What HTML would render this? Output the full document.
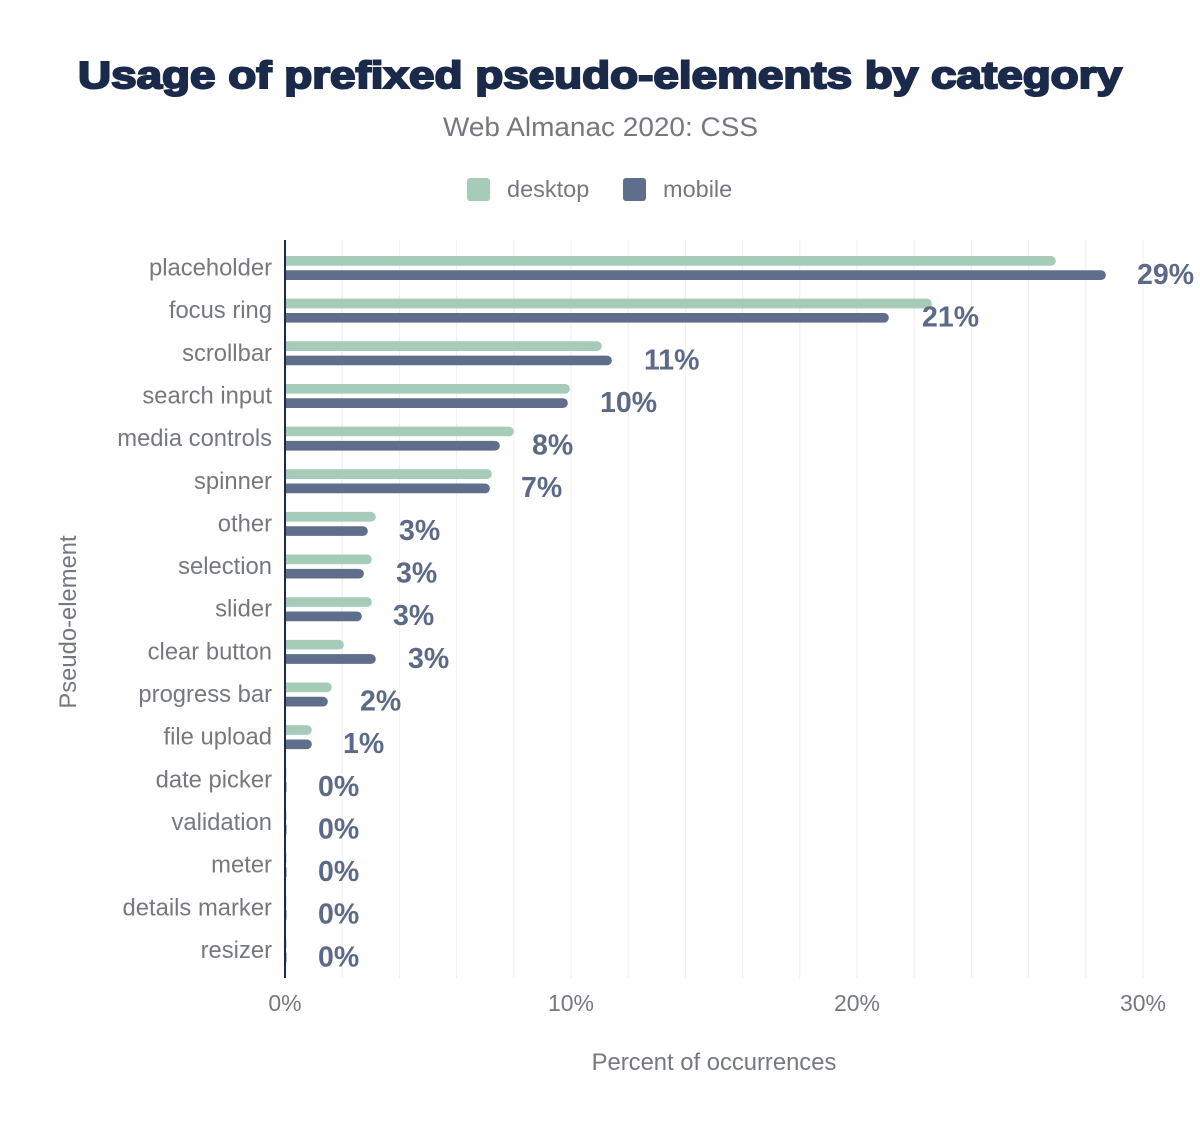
<!DOCTYPE html>
<html>
<head>
<meta charset="utf-8">
<style>
  html, body { margin: 0; padding: 0; background: #ffffff; }
  svg { display: block; }
  text { font-family: "Liberation Sans", Arial, sans-serif; }
</style>
</head>
<body>
<svg width="1200" height="1132" viewBox="0 0 1200 1132" xmlns="http://www.w3.org/2000/svg">
  <rect x="0" y="0" width="1200" height="1132" fill="#ffffff"/>

  <!-- Title -->
  <text x="78" y="88" font-size="38" font-weight="bold" fill="#1b2a4a" stroke="#1b2a4a" stroke-width="2" textLength="1044" lengthAdjust="spacingAndGlyphs">Usage of prefixed pseudo-elements by category</text>
  <!-- Subtitle -->
  <text x="443" y="136" font-size="27" fill="#75787f" textLength="315" lengthAdjust="spacingAndGlyphs">Web Almanac 2020: CSS</text>

  <!-- Legend -->
  <rect x="467" y="178" width="23" height="23" rx="3" fill="#a6cbb9"/>
  <text x="507" y="197" font-size="23.5" fill="#75787f">desktop</text>
  <rect x="623" y="178" width="23" height="23" rx="3" fill="#5f6e8b"/>
  <text x="663" y="197" font-size="23.5" fill="#75787f">mobile</text>

  <!-- Gridlines -->
  <g stroke="#eeeeee" stroke-width="1">
    <line x1="342.2" y1="240" x2="342.2" y2="978"/>
    <line x1="399.4" y1="240" x2="399.4" y2="978"/>
    <line x1="456.6" y1="240" x2="456.6" y2="978"/>
    <line x1="513.8" y1="240" x2="513.8" y2="978"/>
    <line x1="571" y1="240" x2="571" y2="978"/>
    <line x1="628.2" y1="240" x2="628.2" y2="978"/>
    <line x1="685.4" y1="240" x2="685.4" y2="978"/>
    <line x1="742.6" y1="240" x2="742.6" y2="978"/>
    <line x1="799.8" y1="240" x2="799.8" y2="978"/>
    <line x1="857" y1="240" x2="857" y2="978"/>
    <line x1="914.2" y1="240" x2="914.2" y2="978"/>
    <line x1="971.4" y1="240" x2="971.4" y2="978"/>
    <line x1="1028.6" y1="240" x2="1028.6" y2="978"/>
    <line x1="1085.8" y1="240" x2="1085.8" y2="978"/>
    <line x1="1143" y1="240" x2="1143" y2="978"/>
  </g>

  <!-- Bars -->
  <g>
    <path d="M285 256 H1051 A4.85 4.85 0 0 1 1051 265.7 H285 Z" fill="#a6cbb9"/>
    <path d="M285 270.3 H1101 A4.85 4.85 0 0 1 1101 280 H285 Z" fill="#5f6e8b"/>
    <path d="M285 298.65 H927 A4.85 4.85 0 0 1 927 308.35 H285 Z" fill="#a6cbb9"/>
    <path d="M285 312.95 H884 A4.85 4.85 0 0 1 884 322.65 H285 Z" fill="#5f6e8b"/>
    <path d="M285 341.3 H597 A4.85 4.85 0 0 1 597 351 H285 Z" fill="#a6cbb9"/>
    <path d="M285 355.6 H607 A4.85 4.85 0 0 1 607 365.3 H285 Z" fill="#5f6e8b"/>
    <path d="M285 383.95 H565 A4.85 4.85 0 0 1 565 393.65 H285 Z" fill="#a6cbb9"/>
    <path d="M285 398.25 H563 A4.85 4.85 0 0 1 563 407.95 H285 Z" fill="#5f6e8b"/>
    <path d="M285 426.6 H509 A4.85 4.85 0 0 1 509 436.3 H285 Z" fill="#a6cbb9"/>
    <path d="M285 440.9 H495 A4.85 4.85 0 0 1 495 450.6 H285 Z" fill="#5f6e8b"/>
    <path d="M285 469.25 H487 A4.85 4.85 0 0 1 487 478.95 H285 Z" fill="#a6cbb9"/>
    <path d="M285 483.55 H485 A4.85 4.85 0 0 1 485 493.25 H285 Z" fill="#5f6e8b"/>
    <path d="M285 511.9 H371 A4.85 4.85 0 0 1 371 521.6 H285 Z" fill="#a6cbb9"/>
    <path d="M285 526.2 H363 A4.85 4.85 0 0 1 363 535.9 H285 Z" fill="#5f6e8b"/>
    <path d="M285 554.55 H367 A4.85 4.85 0 0 1 367 564.25 H285 Z" fill="#a6cbb9"/>
    <path d="M285 568.85 H359 A4.85 4.85 0 0 1 359 578.55 H285 Z" fill="#5f6e8b"/>
    <path d="M285 597.2 H367 A4.85 4.85 0 0 1 367 606.9 H285 Z" fill="#a6cbb9"/>
    <path d="M285 611.5 H357 A4.85 4.85 0 0 1 357 621.2 H285 Z" fill="#5f6e8b"/>
    <path d="M285 639.85 H339 A4.85 4.85 0 0 1 339 649.55 H285 Z" fill="#a6cbb9"/>
    <path d="M285 654.15 H371 A4.85 4.85 0 0 1 371 663.85 H285 Z" fill="#5f6e8b"/>
    <path d="M285 682.5 H327 A4.85 4.85 0 0 1 327 692.2 H285 Z" fill="#a6cbb9"/>
    <path d="M285 696.8 H323 A4.85 4.85 0 0 1 323 706.5 H285 Z" fill="#5f6e8b"/>
    <path d="M285 725.15 H307 A4.85 4.85 0 0 1 307 734.85 H285 Z" fill="#a6cbb9"/>
    <path d="M285 739.45 H307 A4.85 4.85 0 0 1 307 749.15 H285 Z" fill="#5f6e8b"/>
    <rect x="285" y="767.8" width="1.5" height="9.7" fill="#a6cbb9"/>
    <rect x="285" y="782.1" width="1.5" height="9.7" fill="#5f6e8b"/>
    <rect x="285" y="810.45" width="1.5" height="9.7" fill="#a6cbb9"/>
    <rect x="285" y="824.75" width="1.5" height="9.7" fill="#5f6e8b"/>
    <rect x="285" y="853.1" width="1.5" height="9.7" fill="#a6cbb9"/>
    <rect x="285" y="867.4" width="1.5" height="9.7" fill="#5f6e8b"/>
    <rect x="285" y="895.75" width="1.5" height="9.7" fill="#a6cbb9"/>
    <rect x="285" y="910.05" width="1.5" height="9.7" fill="#5f6e8b"/>
    <rect x="285" y="938.4" width="1.5" height="9.7" fill="#a6cbb9"/>
    <rect x="285" y="952.7" width="1.5" height="9.7" fill="#5f6e8b"/>
  </g>

  <!-- Axis line -->
  <line x1="285" y1="240" x2="285" y2="978" stroke="#1b2a4a" stroke-width="2"/>

  <!-- Category labels -->
  <g font-size="23.8" fill="#75787f" text-anchor="end">
    <text x="272" y="275.5">placeholder</text>
    <text x="272" y="318.15">focus ring</text>
    <text x="272" y="360.8">scrollbar</text>
    <text x="272" y="403.45">search input</text>
    <text x="272" y="446.1">media controls</text>
    <text x="272" y="488.75">spinner</text>
    <text x="272" y="531.4">other</text>
    <text x="272" y="574.05">selection</text>
    <text x="272" y="616.7">slider</text>
    <text x="272" y="659.35">clear button</text>
    <text x="272" y="702">progress bar</text>
    <text x="272" y="744.65">file upload</text>
    <text x="272" y="787.3">date picker</text>
    <text x="272" y="829.95">validation</text>
    <text x="272" y="872.6">meter</text>
    <text x="272" y="915.25">details marker</text>
    <text x="272" y="957.9">resizer</text>
  </g>

  <!-- Value labels -->
  <g font-size="28.5" font-weight="bold" fill="#5b6a87">
    <text x="1137" y="284">29%</text>
    <text x="922" y="326.6">21%</text>
    <text x="644" y="369.3">11%</text>
    <text x="600" y="411.9">10%</text>
    <text x="532" y="454.6">8%</text>
    <text x="521" y="497.2">7%</text>
    <text x="399" y="539.9">3%</text>
    <text x="396" y="582.5">3%</text>
    <text x="393" y="625.2">3%</text>
    <text x="408" y="667.8">3%</text>
    <text x="360" y="710.5">2%</text>
    <text x="343" y="753.1">1%</text>
    <text x="318" y="795.8">0%</text>
    <text x="318" y="838.4">0%</text>
    <text x="318" y="881.1">0%</text>
    <text x="318" y="923.7">0%</text>
    <text x="318" y="966.4">0%</text>
  </g>

  <!-- X tick labels -->
  <g font-size="23" fill="#75787f" text-anchor="middle">
    <text x="285" y="1011">0%</text>
    <text x="571" y="1011">10%</text>
    <text x="857" y="1011">20%</text>
    <text x="1143" y="1011">30%</text>
  </g>

  <!-- Axis titles -->
  <text x="714" y="1070" font-size="23.8" fill="#75787f" text-anchor="middle">Percent of occurrences</text>
  <text x="0" y="0" font-size="23.8" fill="#75787f" text-anchor="middle" transform="translate(76,622) rotate(-90)">Pseudo-element</text>
</svg>
</body>
</html>
